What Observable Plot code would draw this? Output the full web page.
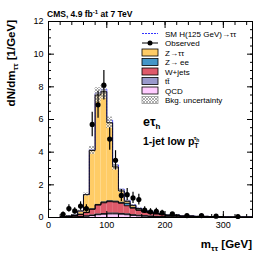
<!DOCTYPE html>
<html><head><meta charset="utf-8">
<script src="https://cdn.jsdelivr.net/npm/d3@7"></script>
<script src="https://cdn.jsdelivr.net/npm/@observablehq/plot@0.6"></script>
<style>body{margin:0;background:#fff;} svg{display:block}</style>
</head><body><div id="chart"></div>
<script>
const binLo = [20,30,40,50,60,70,80,90,100,110,120,130,140,150,160,170,180,190,200,225,250,275,300];
const binHi = [30,40,50,60,70,80,90,100,110,120,130,140,150,160,170,180,190,200,225,250,275,300,350];
const qcd   = [0.01,0.02,0.03,0.05,0.08,0.12,0.17,0.20,0.22,0.22,0.20,0.17,0.13,0.10,0.08,0.06,0.05,0.04,0.03,0.02,0.01,0.01,0.005];
const ttbar = [0.00,0.01,0.01,0.02,0.02,0.03,0.04,0.04,0.05,0.05,0.05,0.05,0.04,0.04,0.03,0.03,0.02,0.02,0.02,0.01,0.01,0.01,0.005];
const wjets = [0.02,0.04,0.07,0.12,0.20,0.35,0.55,0.66,0.70,0.68,0.62,0.50,0.40,0.30,0.22,0.18,0.15,0.12,0.08,0.05,0.04,0.03,0.015];
const zee   = [0,0,0,0.01,0.02,0.03,0.04,0.05,0.05,0.05,0.06,0.15,0.05,0.03,0.02,0.02,0.01,0.01,0.01,0,0,0,0];
const ztt   = [0.01,0.02,0.04,0.20,1.08,3.57,6.70,6.75,4.78,2.10,0.70,0.12,0.12,0.08,0.05,0.04,0.03,0.02,0.01,0.01,0.01,0,0];
const higgs = [0,0,0,0,0.02,0.06,0.12,0.15,0.15,0.12,0.10,0.06,0.04,0.02,0.02,0.01,0.01,0.01,0,0,0,0,0];
const bkgUnc = [0.01,0.02,0.02,0.04,0.10,0.25,0.45,0.45,0.35,0.20,0.10,0.06,0.05,0.04,0.03,0.03,0.02,0.02,0.02,0.01,0.01,0.01,0.005];
const obsX   = [25,35,45,55,65,75,85,95,105,115,125,135,145,155,165,175,185,195,212.5,237.5,262.5,287.5,325];
const obsY   = [0.2,0.55,0.4,0.7,0.55,5.7,6.9,8.1,4.8,3.5,1.35,1.4,1.2,1.1,0.45,0.35,0.38,0.28,0.22,0.12,0.12,0.08,0.06];
const obsErr = [0.14,0.23,0.2,0.26,0.23,0.75,0.83,0.9,0.69,0.59,0.37,0.37,0.35,0.33,0.21,0.19,0.19,0.17,0.09,0.07,0.07,0.06,0.035];
const yTicks = [0,2,4,6,8,10,12];
const xTicks = [0,100,200,300];

const names = ["QCD","tt̄","W+jets","Z→ ee","Z→ττ"];
const colors = ["#FFCCFF","#9999CC","#DE5A6A","#4496C8","#FFCC66"];
const comps = [qcd, ttbar, wjets, zee, ztt];

const rects = [];
const cum = binLo.map(() => 0);
const tops = [];
comps.forEach((arr, k) => {
  binLo.forEach((lo, i) => {
    rects.push({x1: lo, x2: binHi[i], y1: cum[i], y2: cum[i] + arr[i], c: names[k]});
    cum[i] += arr[i];
  });
  tops.push(cum.slice());
});
const total = cum.slice();
function stepPts(vals, layer) {
  const pts = [{x: binLo[0], y: 0, layer}];
  binLo.forEach((lo, i) => { pts.push({x: lo, y: vals[i], layer}); pts.push({x: binHi[i], y: vals[i], layer}); });
  pts.push({x: binHi[binHi.length-1], y: 0, layer});
  return pts;
}
const outline = tops.flatMap((t, k) => stepPts(t, k));
const sigLine = stepPts(total.map((t, i) => t + higgs[i]), 0);
const uncRects = binLo.map((lo, i) => ({x1: lo, x2: binHi[i], y1: total[i] - bkgUnc[i], y2: total[i] + bkgUnc[i]}));
const obs = obsX.map((x, i) => ({x, y: obsY[i], lo: obsY[i] - obsErr[i], hi: obsY[i] + obsErr[i]}));

const minorY = d3.range(0, 12.01, 0.5);
const minorX = d3.range(0, 350.1, 20);

const svg = Plot.plot({
  width: 266, height: 255,
  marginLeft: 48, marginRight: 14, marginTop: 21, marginBottom: 38,
  style: {fontFamily: "Liberation Sans, Arial, sans-serif", fontSize: "9px", background: "#fff"},
  x: {domain: [0, 350]},
  y: {domain: [0, 12]},
  color: {domain: names, range: colors},
  marks: [
    Plot.rect(rects, {x1: "x1", x2: "x2", y1: "y1", y2: "y2", fill: "c"}),
    Plot.line(sigLine, {x: "x", y: "y", stroke: "#3333ff", strokeWidth: 1, strokeDasharray: "2,1"}),
    Plot.rect(uncRects, {x1: "x1", x2: "x2", y1: "y1", y2: "y2", fill: "url(#hatch)"}),
    Plot.line(outline, {x: "x", y: "y", z: "layer", stroke: "#000", strokeWidth: 0.9}),
    Plot.ruleX(obs, {x: "x", y1: "lo", y2: "hi", stroke: "#000", strokeWidth: 1.2}),
    Plot.dot(obs, {x: "x", y: "y", r: 2.6, fill: "#000"}),
    Plot.axisY(yTicks, {anchor: "left", tickSize: 0, tickPadding: 5, label: null}),
    Plot.axisY(yTicks, {anchor: "left", tickSize: -6, text: null, label: null}),
    Plot.axisY(minorY, {anchor: "left", tickSize: -3, text: null, label: null}),
    Plot.axisY(yTicks, {anchor: "right", tickSize: -6, text: null, label: null}),
    Plot.axisY(minorY, {anchor: "right", tickSize: -3, text: null, label: null}),
    Plot.axisX(xTicks, {anchor: "bottom", tickSize: 0, tickPadding: 4, label: null}),
    Plot.axisX(xTicks, {anchor: "bottom", tickSize: -6, text: null, label: null}),
    Plot.axisX(minorX, {anchor: "bottom", tickSize: -3, text: null, label: null}),
    Plot.axisX(xTicks, {anchor: "top", tickSize: -6, text: null, label: null}),
    Plot.axisX(minorX, {anchor: "top", tickSize: -3, text: null, label: null}),
    Plot.frame({stroke: "#000", strokeWidth: 1})
  ]
});

const s = d3.select(svg);
const defs = s.insert("defs", ":first-child");
const pat = defs.append("pattern").attr("id", "hatch").attr("patternUnits", "userSpaceOnUse").attr("width", 3).attr("height", 3);
pat.append("rect").attr("width", 3).attr("height", 3).attr("fill", "#fff").attr("fill-opacity", 0.6);
pat.append("path").attr("d", "M0,0L3,3M3,0L0,3").attr("stroke", "#777").attr("stroke-width", 0.6);

const font = "Liberation Sans, Arial, sans-serif";
// title
s.append("text").attr("x", 47).attr("y", 17).attr("text-anchor", "start").attr("font-family", font).attr("font-size", 8.5).attr("font-weight", "bold")
  .call(t => { t.append("tspan").text("CMS, 4.9 fb"); t.append("tspan").attr("dy", -3).attr("font-size", 6).text("-1"); t.append("tspan").attr("dy", 3).text(" at 7 TeV"); });
// y label
s.append("text").attr("transform", "translate(15,20) rotate(-90)").attr("text-anchor", "end").attr("font-family", font).attr("font-size", 11.5).attr("font-weight", "bold")
  .call(t => { t.append("tspan").text("dN/dm"); t.append("tspan").attr("dy", 3).attr("font-size", 8).text("ττ"); t.append("tspan").attr("dy", -3).text(" [1/GeV]"); });
// x label
s.append("text").attr("x", 252).attr("y", 248).attr("text-anchor", "end").attr("font-family", font).attr("font-size", 11.5).attr("font-weight", "bold")
  .call(t => { t.append("tspan").text("m"); t.append("tspan").attr("dy", 3).attr("font-size", 8).text("ττ"); t.append("tspan").attr("dy", -3).text(" [GeV]"); });
// annotations
s.append("text").attr("x", 143).attr("y", 126).attr("text-anchor", "start").attr("font-family", font).attr("font-size", 12.5).attr("font-weight", "bold")
  .call(t => { t.append("tspan").text("eτ"); t.append("tspan").attr("dy", 3).attr("font-size", 8).text("h"); });
s.append("text").attr("x", 143).attr("y", 145).attr("text-anchor", "start").attr("font-family", font).attr("font-size", 10.5).attr("font-weight", "bold")
  .call(t => { t.append("tspan").text("1-jet low p"); t.append("tspan").attr("dy", 3).attr("font-size", 7).text("T"); t.append("tspan").attr("dx", -5).attr("dy", -8).attr("font-size", 6).text("τ"); t.append("tspan").attr("dy", 1.5).attr("font-size", 5).text("h"); });

// legend
const lg = s.append("g").attr("font-family", font).attr("font-size", 8).attr("text-anchor", "start");
const lx = 142, lw = 16, tx = 165;
const rowY = [33.5, 43, 52.5, 62, 71.5, 81, 90.5, 100];
lg.append("line").attr("x1", lx).attr("x2", lx + lw).attr("y1", rowY[0]).attr("y2", rowY[0]).attr("stroke", "#3333ff").attr("stroke-dasharray", "2,1").attr("stroke-width", 1.2);
lg.append("text").attr("x", tx).attr("y", rowY[0] + 3).text("SM H(125 GeV)→ττ");
lg.append("line").attr("x1", lx).attr("x2", lx + lw).attr("y1", rowY[1]).attr("y2", rowY[1]).attr("stroke", "#000").attr("stroke-width", 1);
lg.append("circle").attr("cx", lx + lw / 2).attr("cy", rowY[1]).attr("r", 2.5).attr("fill", "#000");
lg.append("text").attr("x", tx).attr("y", rowY[1] + 3).text("Observed");
const legOrder = [4, 3, 2, 1, 0];
legOrder.forEach((k, j) => {
  const y = rowY[2 + j];
  lg.append("rect").attr("x", lx).attr("y", y - 3.5).attr("width", lw).attr("height", 7).attr("fill", colors[k]).attr("stroke", "#000").attr("stroke-width", 0.8);
  lg.append("text").attr("x", tx).attr("y", y + 3).text(names[k]);
});
lg.append("rect").attr("x", lx).attr("y", rowY[7] - 3.5).attr("width", lw).attr("height", 7).attr("fill", "url(#hatch)").attr("stroke", "#999").attr("stroke-width", 0.8);
lg.append("text").attr("x", tx).attr("y", rowY[7] + 3).text("Bkg. uncertainty");

document.getElementById("chart").appendChild(svg);
</script></body></html>
